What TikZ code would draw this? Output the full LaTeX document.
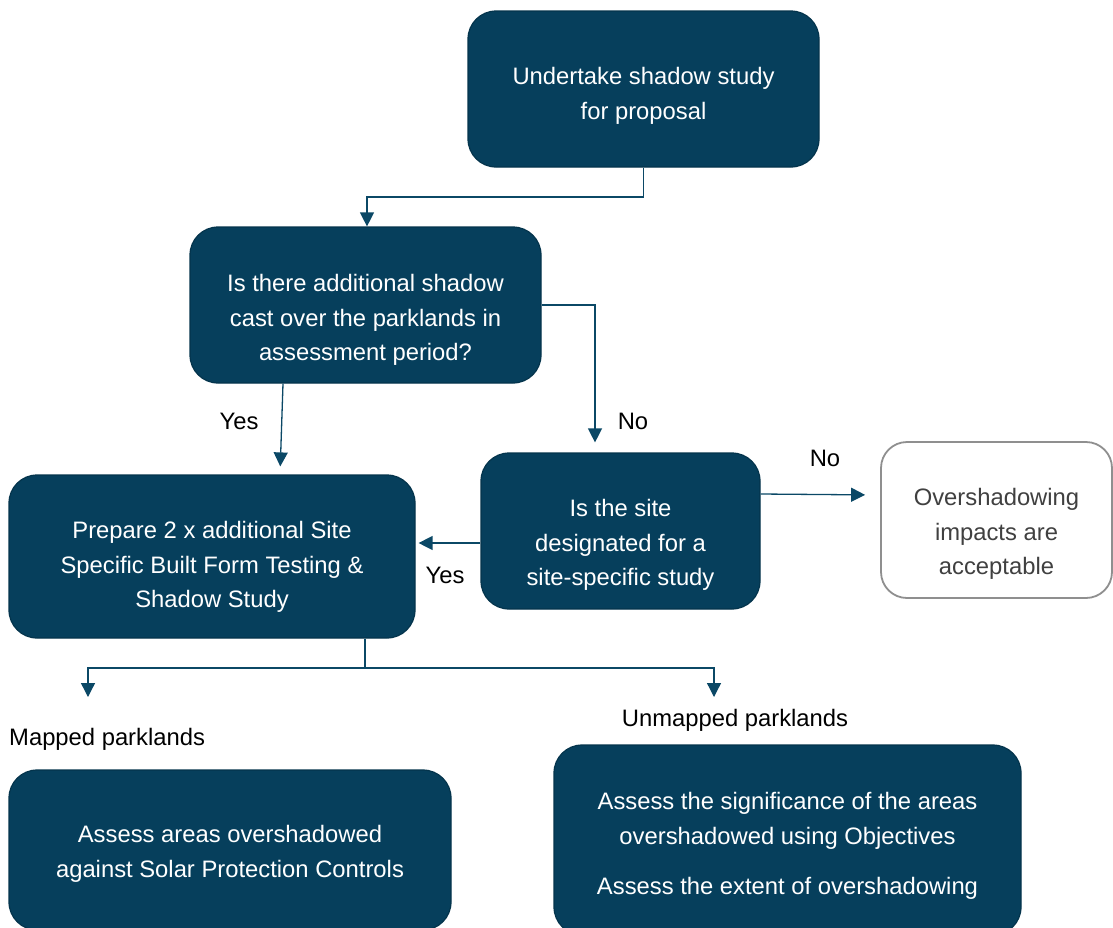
\documentclass[tikz,border=0pt]{standalone}
\usepackage{fontspec}
\setmainfont{Liberation Sans}
\usetikzlibrary{arrows.meta,calc}
\definecolor{navy}{HTML}{063F5C}
\definecolor{navyline}{HTML}{0B4866}
\definecolor{edgec}{HTML}{04344C}
\definecolor{graybox}{HTML}{8F8F8F}
\definecolor{graytxt}{HTML}{404040}
\tikzset{
  box/.style={draw=edgec, line width=1.2pt, fill=navy, rounded corners=28pt, inner sep=0pt},
  greybox/.style={draw=graybox, line width=1.8pt, fill=white, rounded corners=26pt, inner sep=0pt},
  txt/.style={text=white, align=center, inner sep=0pt, font=\fontsize{23.8}{34.7}\selectfont},
  gtxt/.style={txt, text=graytxt},
  lbl/.style={text=black, inner sep=0pt, font=\fontsize{23.8}{28}\selectfont},
  conn/.style={draw=navyline, line width=1.3pt, -{Triangle[length=14pt,width=14pt]}},
  plain/.style={draw=navyline, line width=1.3pt}
}
\begin{document}
\begin{tikzpicture}[x=1pt,y=-1pt]
\useasboundingbox (0,0) rectangle (1113,927);
% boxes
\node[box, minimum width=351pt, minimum height=156pt] (b1) at (643.5,89) {};
\node[box, minimum width=351pt, minimum height=156pt] (b2) at (365.5,305) {};
\node[box, minimum width=406pt, minimum height=163pt] (b3) at (212,556.5) {};
\node[box, minimum width=279pt, minimum height=156pt] (b4) at (620.5,531) {};
\node[greybox, minimum width=231pt, minimum height=156pt] (b5) at (996.5,520) {};
\node[box, minimum width=442pt, minimum height=160pt] (b6) at (230,850) {};
\node[box, minimum width=467pt, minimum height=190pt] (b7) at (787.5,840) {};
% texts
\node[txt] (t1) at (643.5,96) {Undertake shadow study\\for proposal};
\node[txt] (t2) at (365.5,320) {Is there additional shadow\\cast over the parklands in\\assessment period?};
\node[txt] (t3) at (212,567) {Prepare 2 x additional Site\\Specific Built Form Testing \&\\Shadow Study};
\node[txt] (t4) at (620.5,545) {Is the site\\designated for a\\site-specific study};
\node[gtxt] (t5) at (996.5,534) {Overshadowing\\impacts are\\acceptable};
\node[txt] (t6) at (230,854) {Assess areas overshadowed\\against Solar Protection Controls};
\node[txt] (t7) at (787.5,846) {Assess the significance of the areas\\overshadowed using Objectives\\[15pt]Assess the extent of overshadowing};
% labels
\node[lbl] (l1) at (239,421) {Yes};
\node[lbl] (l2) at (633,421) {No};
\node[lbl] (l3) at (445,575) {Yes};
\node[lbl] (l4) at (825,458) {No};
\node[lbl, anchor=west] (l5) at (9,739) {Mapped parklands};
\node[lbl] (l6) at (735,720) {Unmapped parklands};
% connectors
\draw[conn] (b1.south) -- (b1.south |- 0,197) -| (b2.north -| 367,0);
\draw[conn, shorten >=8pt] (b2.south -| 283,0) -- (b3.north -| 280,0);
\draw[conn, shorten >=10pt] (b2.east) -| (b4.north -| 595,0);
\draw[conn, shorten >=3pt] (b4.west |- 0,543) -- (b3.east |- 0,543);
\draw[conn, shorten >=15pt] (b4.east |- 0,494) -- (b5.west |- 0,495);
\coordinate (j2) at (365,668);
\coordinate (m1) at (88,697);
\coordinate (m2) at (714,697);
\draw[plain] (b3.south -| j2) -- (j2);
\draw[conn] (j2) -| (m1);
\draw[conn] (j2) -| (m2);
\end{tikzpicture}
\end{document}
